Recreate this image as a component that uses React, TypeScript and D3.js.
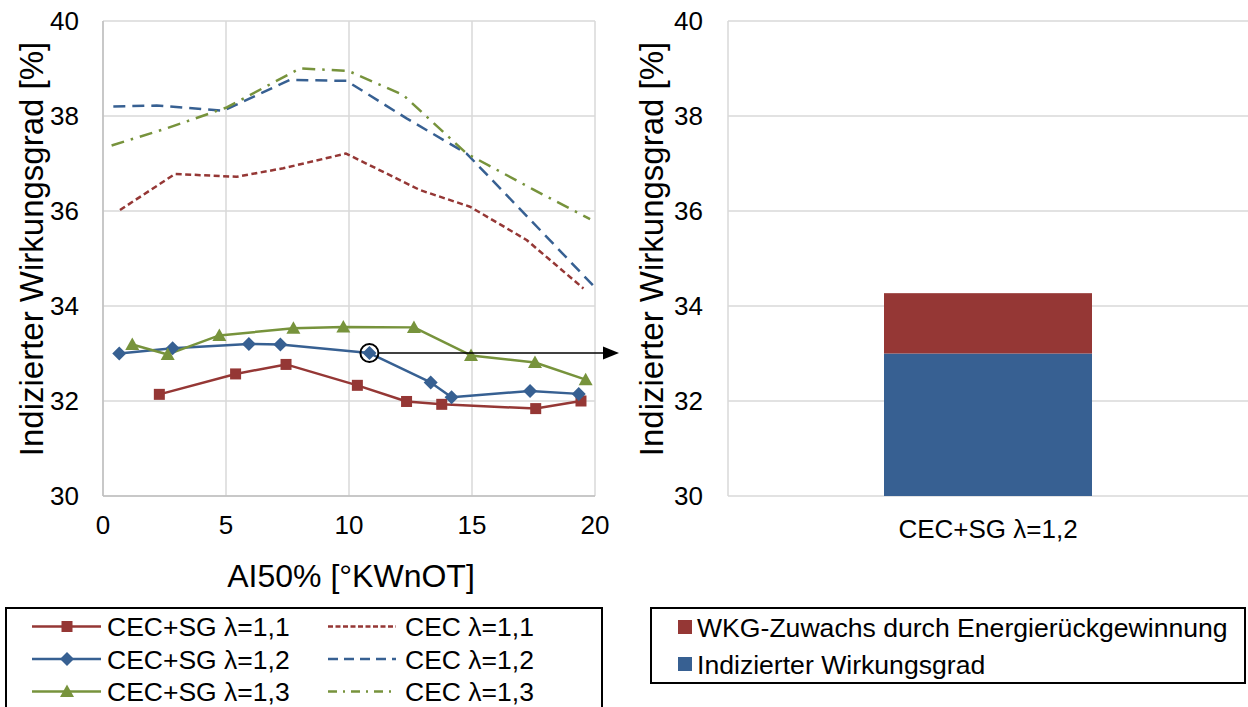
import React from "react";
import * as d3 from "d3";

// ---------- data ----------
const xTicks = [0, 5, 10, 15, 20];
const yTicks = [30, 32, 34, 36, 38, 40];

const sg11X = [2.29, 5.39, 7.44, 10.34, 12.34, 13.77, 17.59, 19.43];
const sg11Y = [32.14, 32.57, 32.77, 32.33, 31.99, 31.93, 31.84, 32.0];
const sg12X = [0.66, 2.83, 5.93, 7.21, 10.83, 13.32, 14.17, 17.36, 19.34];
const sg12Y = [33.0, 33.11, 33.2, 33.19, 33.01, 32.39, 32.08, 32.21, 32.15];
const sg13X = [1.19, 2.63, 4.73, 7.74, 9.77, 12.64, 14.96, 17.56, 19.62];
const sg13Y = [33.19, 32.98, 33.38, 33.53, 33.56, 33.55, 32.96, 32.81, 32.45];

const cec11X = [0.69, 2.93, 5.43, 7.33, 9.88, 12.89, 14.92, 17.22, 19.53];
const cec11Y = [36.02, 36.78, 36.72, 36.9, 37.21, 36.44, 36.09, 35.39, 34.37];
const cec12X = [0.42, 2.18, 4.89, 7.6, 9.9, 12.34, 14.78, 17.4, 20.0];
const cec12Y = [38.2, 38.22, 38.11, 38.76, 38.74, 37.95, 37.21, 35.8, 34.39];
const cec13X = [0.35, 2.59, 5.03, 8.0, 9.97, 12.21, 14.78, 17.5, 19.8];
const cec13Y = [37.38, 37.74, 38.18, 39.0, 38.95, 38.44, 37.21, 36.45, 35.83];

// highlighted point (CEC+SG λ=1,2)
const highlightX = 10.83;
const highlightY = 33.01;

const barCategories = ["CEC+SG λ=1,2"];
const barBase = [33.0];
const barGain = [1.27];

const seriesNames = ["CEC+SG λ=1,1", "CEC λ=1,1", "CEC+SG λ=1,2", "CEC λ=1,2", "CEC+SG λ=1,3", "CEC λ=1,3"];
const barSeriesNames = ["WKG-Zuwachs durch Energierückgewinnung", "Indizierter Wirkungsgrad"];

// ---------- styles ----------
const RED = "#953735";
const BLUE = "#376092";
const GREEN = "#77933C";
const GRID = "#D9D9D9";
const AXIS = "#BFBFBF";
const FONT = "'Liberation Sans', Arial, sans-serif";

const W = 1248;
const H = 707;

type Series = { name: string; xs: number[]; ys: number[]; color: string; dash?: string; legendDash?: string; marker?: "square" | "diamond" | "triangle" };

const lineSeries: Series[] = [
  { name: seriesNames[1], xs: cec11X, ys: cec11Y, color: RED, dash: "6 3.5", legendDash: "5 2.5" },
  { name: seriesNames[3], xs: cec12X, ys: cec12Y, color: BLUE, dash: "12 7", legendDash: "10 6" },
  { name: seriesNames[5], xs: cec13X, ys: cec13Y, color: GREEN, dash: "13 7 2.5 7", legendDash: "9 6 2 6" },
  { name: seriesNames[0], xs: sg11X, ys: sg11Y, color: RED, marker: "square" },
  { name: seriesNames[2], xs: sg12X, ys: sg12Y, color: BLUE, marker: "diamond" },
  { name: seriesNames[4], xs: sg13X, ys: sg13Y, color: GREEN, marker: "triangle" },
];

function Marker({ kind, x, y, color }: { kind?: string; x: number; y: number; color: string }) {
  if (kind === "square") return <rect x={x - 5.5} y={y - 5.5} width={11} height={11} fill={color} />;
  if (kind === "diamond") return <path d={`M${x},${y - 7}L${x + 7},${y}L${x},${y + 7}L${x - 7},${y}Z`} fill={color} />;
  if (kind === "triangle") return <path d={`M${x},${y - 7}L${x + 7},${y + 5.5}L${x - 7},${y + 5.5}Z`} fill={color} />;
  return null;
}

export default function App() {
  // left chart
  const L = { left: 103, right: 595, top: 21, bottom: 496 };
  const x = d3.scaleLinear().domain([0, 20]).range([L.left, L.right]);
  const y = d3.scaleLinear().domain([30, 40]).range([L.bottom, L.top]);
  const line = d3.line<[number, number]>().x((d) => x(d[0])).y((d) => y(d[1]));

  // right chart
  const R = { left: 728, right: 1248, top: 21, bottom: 496 };
  const xb = d3.scaleBand().domain(barCategories).range([R.left, R.right]).paddingInner(0.6).paddingOuter(0.3);
  const yb = d3.scaleLinear().domain([30, 40]).range([R.bottom, R.top]).clamp(true);
  const stackData = barCategories.map((c, i) => ({ cat: c, base: barBase[i], gain: barGain[i] }));
  const stacked = d3.stack<any>().keys(["base", "gain"])(stackData);
  const barColors: Record<string, string> = { base: BLUE, gain: RED };

  const hx = x(highlightX);
  const hy = y(highlightY);

  const legendRows = [
    { solid: lineSeries[3], dashed: lineSeries[0] },
    { solid: lineSeries[4], dashed: lineSeries[1] },
    { solid: lineSeries[5], dashed: lineSeries[2] },
  ];

  return (
    <svg width={W} height={H} style={{ position: "absolute", left: 0, top: 0, background: "#fff" }} fontFamily={FONT}>
      <defs>
        <clipPath id="plotL">
          <rect x={L.left} y={L.top - 5} width={L.right - L.left + 2} height={L.bottom - L.top + 10} />
        </clipPath>
      </defs>
      {/* ---------- left chart ---------- */}
      {xTicks.map((t) => (
        <line key={"gx" + t} x1={x(t)} x2={x(t)} y1={L.top} y2={L.bottom} stroke={GRID} strokeWidth={1.5} />
      ))}
      {yTicks.map((t) => (
        <line key={"gy" + t} x1={L.left} x2={L.right} y1={y(t)} y2={y(t)} stroke={GRID} strokeWidth={1.5} />
      ))}
      <line x1={L.left} x2={L.left} y1={L.top} y2={L.bottom} stroke={AXIS} strokeWidth={1.5} />
      <line x1={L.left} x2={L.right} y1={L.bottom} y2={L.bottom} stroke={AXIS} strokeWidth={1.5} />
      {yTicks.map((t) => (
        <text key={"ty" + t} x={L.left - 24} y={y(t)} dy="0.36em" textAnchor="end" fontSize={26} fill="#000">
          {t}
        </text>
      ))}
      {xTicks.map((t) => (
        <text key={"tx" + t} x={x(t)} y={L.bottom + 29} dy="0.36em" textAnchor="middle" fontSize={26} fill="#000">
          {t}
        </text>
      ))}
      <text x={(L.left + L.right) / 2 + 2} y={587} textAnchor="middle" fontSize={32} fill="#000">
        AI50% [°KWnOT]
      </text>
      <text transform={`translate(43,249) rotate(-90)`} textAnchor="middle" fontSize={33} fill="#000">
        Indizierter Wirkungsgrad [%]
      </text>
      <g clipPath="url(#plotL)">
        {lineSeries.map((s) => (
          <path
            key={s.name}
            d={line(s.xs.map((v, i) => [v, s.ys[i]] as [number, number])) || ""}
            fill="none"
            stroke={s.color}
            strokeWidth={2.5}
            strokeDasharray={s.dash}
            strokeLinejoin="round"
          />
        ))}
      </g>
      {lineSeries
        .filter((s) => s.marker)
        .map((s) =>
          s.xs.map((v, i) => <Marker key={s.name + i} kind={s.marker} x={x(v)} y={y(s.ys[i])} color={s.color} />)
        )}
      {/* annotation */}
      <circle cx={hx} cy={hy} r={9} fill="none" stroke="#000" strokeWidth={2} />
      <line x1={hx + 9} x2={604} y1={hy} y2={hy} stroke="#000" strokeWidth={1.5} />
      <path d={`M${619},${hy}L${603},${hy - 6.5}L${603},${hy + 6.5}Z`} fill="#000" />

      {/* ---------- right chart ---------- */}
      {yTicks.map((t) => (
        <line key={"rgy" + t} x1={R.left} x2={R.right} y1={yb(t)} y2={yb(t)} stroke={GRID} strokeWidth={1.5} />
      ))}
      <line x1={R.left} x2={R.left} y1={R.top} y2={R.bottom} stroke={GRID} strokeWidth={1.5} />
      {stacked.map((layer) =>
        layer.map((d, i) => (
          <rect
            key={layer.key + i}
            x={xb(d.data.cat)}
            width={xb.bandwidth()}
            y={yb(d[1])}
            height={yb(d[0]) - yb(d[1])}
            fill={barColors[layer.key]}
          />
        ))
      )}
      {yTicks.map((t) => (
        <text key={"rty" + t} x={R.left - 25} y={yb(t)} dy="0.36em" textAnchor="end" fontSize={26} fill="#000">
          {t}
        </text>
      ))}
      {barCategories.map((c) => (
        <text key={c} x={(xb(c) || 0) + xb.bandwidth() / 2} y={R.bottom + 33} dy="0.36em" textAnchor="middle" fontSize={26} fill="#000">
          {c}
        </text>
      ))}
      <text transform={`translate(663,249) rotate(-90)`} textAnchor="middle" fontSize={33} fill="#000">
        Indizierter Wirkungsgrad [%]
      </text>

      {/* ---------- left legend ---------- */}
      <rect x={6} y={608} width={596} height={110} fill="none" stroke="#000" strokeWidth={2} />
      {legendRows.map((row, i) => {
        const cy = 626.5 + i * 32.5;
        return (
          <g key={"lr" + i}>
            <line x1={32} x2={101} y1={cy} y2={cy} stroke={row.solid.color} strokeWidth={2.5} />
            <Marker kind={row.solid.marker} x={67} y={cy} color={row.solid.color} />
            <text x={107} y={cy} dy="0.36em" fontSize={26.5} fill="#000">
              {row.solid.name}
            </text>
            <line x1={328} x2={396} y1={cy} y2={cy} stroke={row.dashed.color} strokeWidth={2.5} strokeDasharray={row.dashed.legendDash} />
            <text x={405} y={cy} dy="0.36em" fontSize={26.5} fill="#000">
              {row.dashed.name}
            </text>
          </g>
        );
      })}

      {/* ---------- right legend ---------- */}
      <rect x={651} y={608} width={594} height={75} fill="none" stroke="#000" strokeWidth={2} />
      {barSeriesNames.map((n, i) => {
        const cy = 627 + i * 37;
        return (
          <g key={n}>
            <rect x={678} y={cy - 7} width={14} height={14} fill={i === 0 ? RED : BLUE} />
            <text x={697} y={cy} dy="0.36em" fontSize={26.6} fill="#000">
              {n}
            </text>
          </g>
        );
      })}
    </svg>
  );
}
